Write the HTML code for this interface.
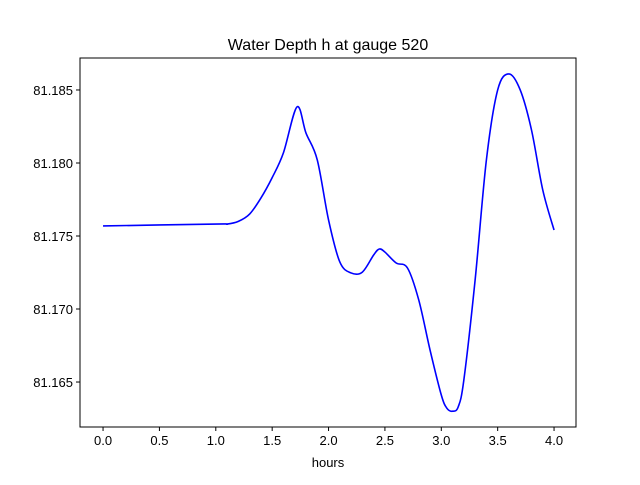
<!DOCTYPE html>
<html><head><meta charset="utf-8"><style>
body{margin:0;background:#fff;font-family:"Liberation Sans","DejaVu Sans",sans-serif}
</style></head><body>
<svg id="c" width="640" height="480" xmlns="http://www.w3.org/2000/svg">
<rect width="640" height="480" fill="#fff"/>
<text x="328" y="50" text-anchor="middle" font-size="16">Water Depth h at gauge 520</text>
<g id="plot"></g>
<rect x="80" y="58" width="496" height="369" fill="none" stroke="#000" stroke-width="1"/>
<text x="328" y="467" text-anchor="middle" font-size="13">hours</text>
</svg>
<script>
const hours=[0,1.0,1.1,1.2,1.3,1.4,1.5,1.6,1.72,1.8,1.9,2.0,2.1,2.2,2.3,2.4,2.45,2.5,2.6,2.7,2.8,2.9,3.0,3.05,3.1,3.15,3.2,3.3,3.4,3.5,3.6,3.7,3.8,3.9,4.0];
const depth=[81.17569,81.17582,81.17582,81.17600,81.17650,81.17760,81.17900,81.18070,81.18384,81.18205,81.18021,81.17610,81.17322,81.17247,81.17253,81.17370,81.17411,81.17390,81.17315,81.17281,81.17062,81.16720,81.16411,81.16320,81.16300,81.16330,81.16514,81.17199,81.18021,81.18500,81.18610,81.18500,81.18226,81.17815,81.17541];
const xTicks=[0.0,0.5,1.0,1.5,2.0,2.5,3.0,3.5,4.0];
const yTicks=[81.165,81.170,81.175,81.180,81.185];
const X0=80,X1=576,Y0=58,Y1=427,xmin=-0.2044,xmax=4.1947,ymin=81.16192,ymax=81.18719;
const sx=v=>X0+(v-xmin)/(xmax-xmin)*(X1-X0);
const sy=v=>Y1-(v-ymin)/(ymax-ymin)*(Y1-Y0);
const g=document.getElementById('plot');const NS='http://www.w3.org/2000/svg';
function mk(t,a){const e=document.createElementNS(NS,t);for(const k in a)e.setAttribute(k,a[k]);g.appendChild(e);return e;}
xTicks.forEach(t=>{const x=sx(t);
const l=mk('line',{x1:x,x2:x,y1:Y1,y2:Y1+4,stroke:'#000'});


const tx=mk('text',{x:x,y:Y1+18,'text-anchor':'middle','font-size':'13'});tx.textContent=t.toFixed(1);

});
yTicks.forEach(t=>{const y=sy(t);
const l=mk('line',{x1:X0-4,x2:X0,y1:y,y2:y,stroke:'#000'});


const tx=mk('text',{x:X0-7,y:y+5,'text-anchor':'end','font-size':'13'});tx.textContent=t.toFixed(3);

});
const P=hours.map((h,i)=>[sx(h),sy(depth[i])]);
let d='M'+P[0][0]+','+P[0][1];
for(let i=0;i<P.length-1;i++){const p0=P[Math.max(0,i-1)],p1=P[i],p2=P[i+1],p3=P[Math.min(P.length-1,i+2)];
d+=' C'+(p1[0]+(p2[0]-p0[0])/6)+','+(p1[1]+(p2[1]-p0[1])/6)+' '+(p2[0]-(p3[0]-p1[0])/6)+','+(p2[1]-(p3[1]-p1[1])/6)+' '+p2[0]+','+p2[1];}
const line=mk('path',{d:d,fill:'none',stroke:'#0000ff','stroke-width':'1.6'});


</script>
</body></html>
